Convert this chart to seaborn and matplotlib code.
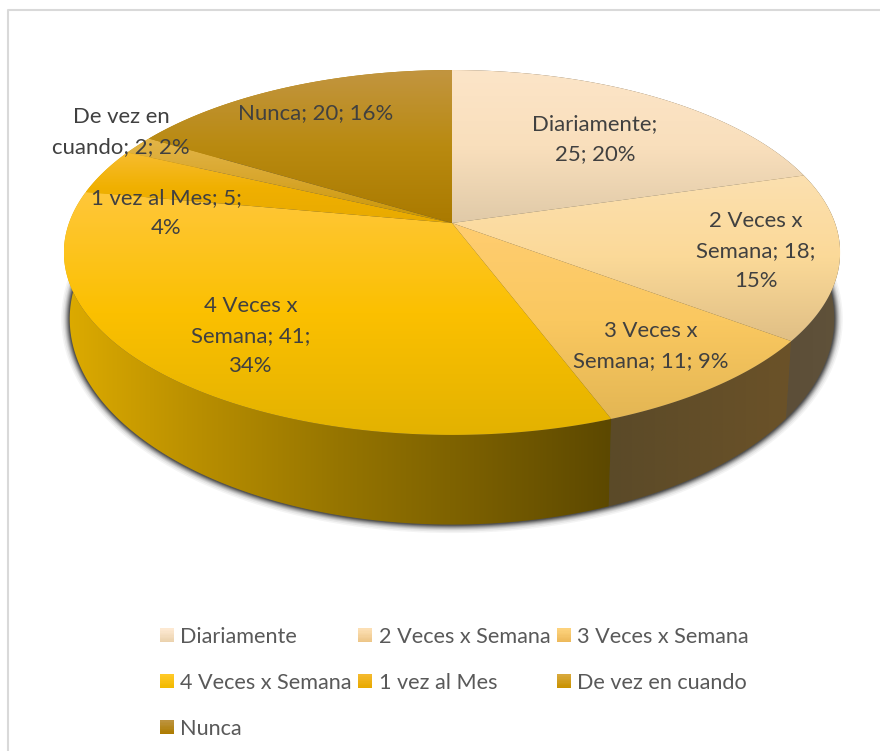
import numpy as np
import matplotlib
matplotlib.use("Agg")
import matplotlib.pyplot as plt
from matplotlib.patches import Polygon, Rectangle
from matplotlib.legend_handler import HandlerBase
import seaborn as sns

sns.set_theme(style="white")
plt.rcParams['font.family'] = ['Lato', 'DejaVu Sans']

# chart values
categories = ['Diariamente', '2 Veces x Semana', '3 Veces x Semana', '4 Veces x Semana',
              '1 vez al Mes', 'De vez en cuando', 'Nunca']
values = [25, 18, 11, 41, 5, 2, 20]
percents = [20, 15, 9, 34, 4, 2, 16]
label_lines = [['Diariamente;', '{v}; {p}%'], ['2 Veces x', 'Semana; {v};', '{p}%'],
               ['3 Veces x', 'Semana; {v}; {p}%'], ['4 Veces x', 'Semana; {v};', '{p}%'],
               ['1 vez al Mes; {v};', '{p}%'], ['De vez en', 'cuando; {v}; {p}%'],
               ['Nunca; {v}; {p}%']]
label_pos = [(595, 139), (756, 251), (651, 346), (251, 336), (166, 213), (121, 132), (316, 113)]

# colours, top to bottom of each slice
top_colors = [['#FCE5C8', '#F9DFBC', '#E0CAA8'],
              ['#FCE0B0', '#FBD998', '#E0BF85'],
              ['#FFCD70', '#FAC860', '#E3B654'],
              ['#FFC73A', '#FBC000', '#E3B200'],
              ['#F7BC30', '#F0B000', '#E8AA00'],
              ['#E3B548', '#D8A62C', '#C99500'],
              ['#C29540', '#B98A10', '#AA7A00']]
wall_colors = [['#6A5A40', '#6A5A40'],
               ['#5C4E38', '#60523A'],
               ['#5B4A28', '#6B5228'],
               ['#DDAB00', '#B88E00', '#967500', '#7A5F00', '#5C4800'],
               ['#E0AE00', '#E0AE00'],
               ['#D8A600', '#D8A600'],
               ['#B08000', '#B08000']]
swatch_colors = [['#FDE9D2', '#EBD2AE'], ['#FCDFB4', '#EDC688'], ['#FDD27C', '#EDB95A'],
                 ['#FFC926', '#F2B900'], ['#F4B92C', '#E8A900'], ['#D8A83A', '#C99200'],
                 ['#BC923C', '#AD7C00']]

# perspective of the pie disc, in image pixels
cx, cy = 452, 223
rx, ry = 383, 177.7
k = 0.1616
wall_d = 63
wall_in = 0.985


def rim(t):
    u, v = np.sin(t), np.cos(t)
    s = 1 / (1 + k * v)
    return cx + rx * u * s, cy - ry * v * s, s


def rim_bottom(t):
    x, y, s = rim(t)
    return cx + (x - cx) * wall_in, y + wall_d * s ** 2


def grad_fill(ax, pts, colors, horizontal=False, z=2):
    pts = np.asarray(pts)
    x0, x1 = pts[:, 0].min(), pts[:, 0].max()
    y0, y1 = pts[:, 1].min(), pts[:, 1].max()
    cmap = sns.blend_palette(colors, as_cmap=True)
    ramp = np.linspace(0, 1, 256)
    ramp = ramp[None, :] if horizontal else ramp[:, None]
    im = ax.imshow(ramp, cmap=cmap, extent=[x0, x1, y1, y0], aspect='auto',
                   zorder=z, interpolation='bilinear')
    clip = Polygon(pts, closed=True, transform=ax.transData)
    im.set_clip_path(clip)


class GradHandler(HandlerBase):
    def __init__(self, colors):
        super().__init__()
        self.colors = colors

    def create_artists(self, legend, orig_handle, xdescent, ydescent, width, height, fontsize, trans):
        pal = sns.blend_palette(self.colors, 10)
        size = 10
        y0 = (height - size) / 2 - ydescent
        return [Rectangle((-xdescent, y0 + size * (9 - i) / 10), size, size / 10 + 0.1,
                          facecolor=pal[i], edgecolor='none', transform=trans)
                for i in range(10)]


fig = plt.figure(figsize=(8.8, 7.51), dpi=100)
ax = fig.add_axes([0, 0, 1, 1])

edges = 2 * np.pi * np.cumsum([0] + values) / sum(values)

# shadow under the wall
t_all = np.linspace(0, 2 * np.pi, 400)
bx, by = rim_bottom(t_all)
for lw, al in zip([17, 14, 11, 9, 7, 5, 3], [0.05, 0.07, 0.1, 0.14, 0.2, 0.28, 0.4]):
    ax.fill(bx, by, facecolor='none', edgecolor='#303030', lw=lw * 0.72, alpha=al, zorder=1)
ax.fill(bx, by, color='#505050', zorder=1)

# walls then top face
for i in range(len(values)):
    t = np.linspace(edges[i], edges[i + 1], 120)
    x, y, s = rim(t)
    xb, yb = rim_bottom(t)
    wall = np.r_[np.c_[x, y], np.c_[xb, yb][::-1]]
    grad_fill(ax, wall, wall_colors[i], horizontal=True, z=2 + 0.01 * i)
for i in range(len(values)):
    t = np.linspace(edges[i], edges[i + 1], 160)
    x, y, s = rim(t)
    face = np.r_[[[cx, cy]], np.c_[x, y]]
    grad_fill(ax, face, top_colors[i], z=3)

for i, (px, py) in enumerate(label_pos):
    txt = '\n'.join(label_lines[i]).format(v=values[i], p=percents[i])
    ax.text(px, py, txt, ha='center', va='center', fontsize=15.9, color='#404040',
            linespacing=1.6, zorder=5)

# chart frame
ax.plot([8, 8, 900], [760, 10, 10], color='#D9D9D9', lw=1.5, zorder=0)

# legend fills by column, reference reads by row
order = [0, 3, 6, 1, 4, 2, 5]
handles = [Rectangle((0, 0), 1, 1) for _ in order]
handler_map = {h: GradHandler(swatch_colors[j]) for h, j in zip(handles, order)}
ax.legend(handles, [categories[j] for j in order], handler_map=handler_map, ncol=3,
          loc='upper left', bbox_to_anchor=(160, 627), bbox_transform=ax.transData,
          frameon=False, fontsize=15.6, labelcolor='#595959', borderpad=0, borderaxespad=0,
          handlelength=0.64, handletextpad=0.3, labelspacing=1.2, columnspacing=0.3)

ax.set_xlim(0, 880)
ax.set_ylim(751, 0)
ax.axis('off')
fig.savefig('out.png', dpi=100)
